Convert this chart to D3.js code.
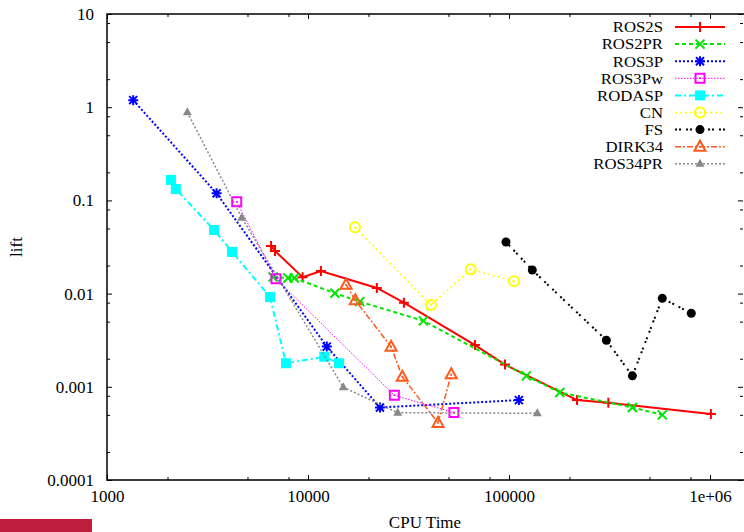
<!DOCTYPE html>
<html>
<head>
<meta charset="utf-8">
<script src="https://cdn.jsdelivr.net/npm/d3@7"></script>
<style>
  body { margin: 0; background: #fff; }
  svg { display: block; font-family: "Liberation Serif", "DejaVu Serif", serif; }
</style>
</head>
<body>
<div id="chart"></div>
<script>
// Values (CPU time, lift) for each method.
const seriesNames = ['ROS2S', 'ROS2PR', 'ROS3P', 'ROS3Pw', 'RODASP', 'CN', 'FS', 'DIRK34', 'ROS34PR'];

const ros2sCpu = [6550, 6850, 9400, 11600, 22000, 30000, 67700, 95500, 218000, 312000, 1010000];
const ros2sLift = [0.0324, 0.0287, 0.0150, 0.0175, 0.0115, 0.0080, 0.0028, 0.00173, 0.00072, 0.000675, 0.00051];

const ros2prCpu = [6700, 7950, 8550, 13600, 18100, 37500, 122000, 179000, 411000, 579000];
const ros2prLift = [0.0151, 0.0147, 0.0147, 0.0101, 0.0082, 0.0051, 0.00131, 0.00087, 0.0006, 0.0005];

const ros3pCpu = [1350, 3510, 12400, 22800, 112000];
const ros3pLift = [1.19, 0.119, 0.0027, 0.0006, 0.00072];

const ros3pwCpu = [4420, 6930, 26900, 53200];
const ros3pwLift = [0.097, 0.0144, 0.00081, 0.00053];

const rodaspCpu = [2080, 2200, 3410, 4190, 6470, 7770, 12050, 14270];
const rodaspLift = [0.166, 0.1325, 0.0481, 0.028, 0.0092, 0.00179, 0.0021, 0.00179];

const cnCpu = [17130, 40900, 64500, 105900];
const cnLift = [0.0514, 0.00755, 0.0182, 0.01355];

const fsCpu = [96600, 130600, 305000, 411000, 579000, 807000];
const fsLift = [0.0358, 0.0179, 0.00316, 0.00131, 0.0089, 0.00615];

const dirk34Cpu = [15460, 17190, 25900, 29450, 44350, 51600];
const dirk34Lift = [0.01246, 0.00848, 0.00269, 0.00128, 0.00041, 0.00136];

const ros34prCpu = [2510, 4680, 14980, 27950, 138300];
const ros34prLift = [0.882, 0.0653, 0.00099, 0.000527, 0.00052];

const xTicks = [1000, 10000, 100000, 1000000];
const xTickLabels = ['1000', '10000', '100000', '1e+06'];
const yTicks = [0.0001, 0.001, 0.01, 0.1, 1, 10];
const yTickLabels = ['0.0001', '0.001', '0.01', '0.1', '1', '10'];

// Build the series table.
const cpuArrays = [ros2sCpu, ros2prCpu, ros3pCpu, ros3pwCpu, rodaspCpu, cnCpu, fsCpu, dirk34Cpu, ros34prCpu];
const liftArrays = [ros2sLift, ros2prLift, ros3pLift, ros3pwLift, rodaspLift, cnLift, fsLift, dirk34Lift, ros34prLift];
const styles = [
    {color: '#ff0000', width: 2, dash: null, marker: 'plus'},
    {color: '#00e600', width: 2, dash: '4,3', marker: 'x'},
    {color: '#0000ff', width: 2, dash: '2,2', marker: 'star'},
    {color: '#ff00ff', width: 1, dash: '1.5,1.5', marker: 'square'},
    {color: '#00ffff', width: 2, dash: '6,3,2,3', marker: 'fsquare'},
    {color: '#ffff00', width: 1.5, dash: '2,3', marker: 'circle'},
    {color: '#000000', width: 2, dash: '2,2,2,5', marker: 'fcircle'},
    {color: '#ff5a1e', width: 1.5, dash: '6,2,2,2', marker: 'triangle'},
    {color: '#888888', width: 1.5, dash: '2,2', marker: 'ftriangle'}
];
const series = seriesNames.map((name, i) => ({
    name: name,
    points: cpuArrays[i].map((c, j) => ({cpu: c, lift: liftArrays[i][j]})),
    style: styles[i]
}));

const W = 744, H = 532;
const plot = {left: 107, top: 14, right: 744, bottom: 480};

const svg = d3.select('#chart')
    .append('svg')
        .attr('width', W)
        .attr('height', H);

// Scales: log on both axes.
const x = d3.scaleLog().domain([1e3, 1e6]).range([107, 710]);
const y = d3.scaleLog().domain([1e-4, 10]).range([plot.bottom, plot.top]);

const minorX = [];
[1e3, 1e4, 1e5, 1e6].forEach(d => [2, 5, 8].forEach(m => { if (d * m <= x.invert(plot.right)) minorX.push(d * m); }));
const minorY = [];
[1e-4, 1e-3, 1e-2, 1e-1, 1].forEach(d => [2, 5, 8].forEach(m => minorY.push(d * m)));

// Axes with inward ticks.
function tickAxis(axis, transform) {
    const g = svg.append('g').attr('transform', transform).call(axis);
    g.select('.domain').remove();
    g.selectAll('line').attr('stroke', '#000').attr('stroke-width', 1);
    g.selectAll('text')
        .attr('fill', '#000')
        .style('font-size', '17px')
        .style('font-family', '"Liberation Serif", serif');
    return g;
}

tickAxis(d3.axisBottom(x).tickValues(xTicks).tickFormat((d, i) => xTickLabels[i])
    .tickSizeInner(-5).tickSizeOuter(0).tickPadding(10), `translate(0,${plot.bottom})`);
tickAxis(d3.axisBottom(x).tickValues(minorX).tickFormat('')
    .tickSizeInner(-3).tickSizeOuter(0), `translate(0,${plot.bottom})`);
tickAxis(d3.axisTop(x).tickValues(xTicks).tickFormat('')
    .tickSizeInner(-5).tickSizeOuter(0), `translate(0,${plot.top})`);
tickAxis(d3.axisTop(x).tickValues(minorX).tickFormat('')
    .tickSizeInner(-3).tickSizeOuter(0), `translate(0,${plot.top})`);

tickAxis(d3.axisLeft(y).tickValues(yTicks).tickFormat((d, i) => yTickLabels[i])
    .tickSizeInner(-5).tickSizeOuter(0).tickPadding(13), `translate(${plot.left},0)`);
tickAxis(d3.axisLeft(y).tickValues(minorY).tickFormat('')
    .tickSizeInner(-3).tickSizeOuter(0), `translate(${plot.left},0)`);
tickAxis(d3.axisRight(y).tickValues(yTicks).tickFormat('')
    .tickSizeInner(-5).tickSizeOuter(0), `translate(${plot.right - 1},0)`);
tickAxis(d3.axisRight(y).tickValues(minorY).tickFormat('')
    .tickSizeInner(-3).tickSizeOuter(0), `translate(${plot.right - 1},0)`);

// Frame.
svg.append('path')
    .attr('d', `M${plot.right},${plot.top}H${plot.left}V${plot.bottom}H${plot.right}`)
    .attr('fill', 'none')
    .attr('stroke', '#000')
    .attr('stroke-width', 1.5);

// Axis titles.
svg.append('text')
    .attr('x', 425).attr('y', 528)
    .attr('text-anchor', 'middle')
    .style('font-size', '17px')
    .text('CPU Time');
svg.append('text')
    .attr('transform', 'translate(22,247)rotate(-90)')
    .attr('text-anchor', 'middle')
    .style('font-size', '17px')
    .text('lift');

// The red strip at the bottom left.
svg.append('rect')
    .attr('x', 0).attr('y', 519)
    .attr('width', 92).attr('height', 13)
    .attr('fill', '#be1e3c');

// Marker drawing.
function drawMarker(g, type, color) {
    const s = g.append('g');
    const stroke = (d) => s.append('path').attr('d', d).attr('fill', 'none').attr('stroke', color).attr('stroke-width', 2);
    const dot = () => s.append('circle').attr('r', 1).attr('fill', color);
    switch (type) {
        case 'plus':
            stroke('M-5,0H5M0,-5V5');
            break;
        case 'x':
            stroke('M-4.5,-4.5L4.5,4.5M-4.5,4.5L4.5,-4.5');
            break;
        case 'star':
            stroke('M-5,0H5M0,-5V5M-4,-4L4,4M-4,4L4,-4');
            break;
        case 'square':
            stroke('M-4.5,-4.5H4.5V4.5H-4.5Z');
            dot();
            break;
        case 'fsquare':
            s.append('rect').attr('x', -5).attr('y', -5).attr('width', 10).attr('height', 10).attr('fill', color);
            break;
        case 'circle':
            s.append('circle').attr('r', 5).attr('fill', 'none').attr('stroke', color).attr('stroke-width', 2);
            dot();
            break;
        case 'fcircle':
            s.append('circle').attr('r', 4.5).attr('fill', color);
            break;
        case 'triangle':
            stroke('M0,-6L5.5,4H-5.5Z');
            dot();
            break;
        case 'ftriangle':
            s.append('path').attr('d', 'M0,-5L4.5,3H-4.5Z').attr('fill', color);
            break;
    }
    return s;
}

const line = d3.line().x(d => x(d.cpu)).y(d => y(d.lift));

series.forEach(sr => {
    const g = svg.append('g');
    g.append('path')
        .attr('d', line(sr.points))
        .attr('fill', 'none')
        .attr('stroke', sr.style.color)
        .attr('stroke-width', sr.style.width)
        .attr('stroke-dasharray', sr.style.dash);
    sr.points.forEach(p => {
        drawMarker(g, sr.style.marker, sr.style.color)
            .attr('transform', `translate(${x(p.cpu)},${y(p.lift)})`);
    });
});

// Legend. Text is a bit smaller and stretched sideways so rows do not collide.
const legend = svg.append('g');
series.forEach((sr, i) => {
    const ly = 27 + i * 17.1;
    legend.append('text')
        .attr('transform', `translate(663,${ly})scale(1.1,1)`)
        .attr('dy', '0.35em')
        .attr('text-anchor', 'end')
        .style('font-size', '15.2px')
        .text(sr.name);
    legend.append('line')
        .attr('x1', 675).attr('x2', 725)
        .attr('y1', ly).attr('y2', ly)
        .attr('stroke', sr.style.color)
        .attr('stroke-width', sr.style.width)
        .attr('stroke-dasharray', sr.style.dash);
    drawMarker(legend, sr.style.marker, sr.style.color)
        .attr('transform', `translate(700,${ly})`);
});
</script>
</body>
</html>
